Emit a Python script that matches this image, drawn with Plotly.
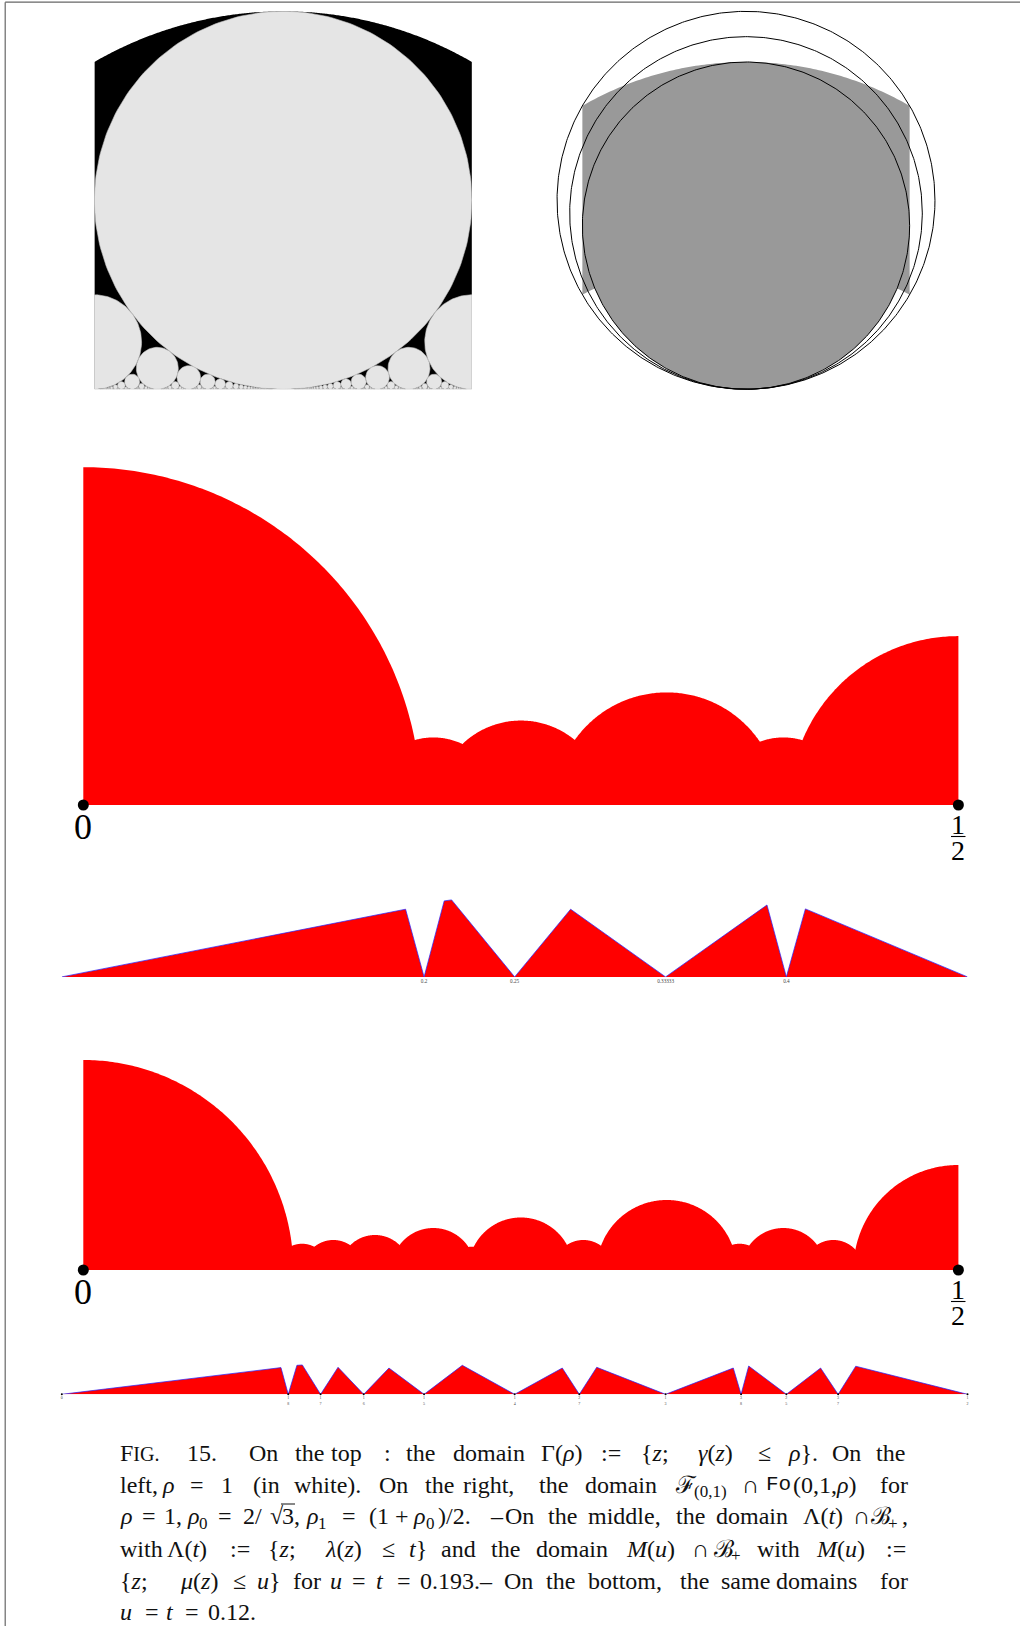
import numpy as np
import plotly.graph_objects as go
from math import gcd, sqrt

W, H = 1020, 1626
RED, BLUE = "#ff0000", "#2222ff"
SERIF = "Liberation Serif"

# ---- data ----
ford_max_q = 34
rho = 1.0
rho0 = 2 / sqrt(3)
rho1 = (1 + rho0) / 2
rhos = [rho, rho0, rho1]

t_mid = 0.193
t_low = 0.12
fractions_mid = [(0, 1), (1, 5), (1, 4), (1, 3), (2, 5), (1, 2)]
fractions_low = [(0, 1), (1, 8), (1, 7), (1, 6), (1, 5), (2, 9), (1, 4), (2, 7),
                 (1, 3), (3, 8), (2, 5), (3, 7), (1, 2)]

m_mid_x = [0, .1898, .2, .2111, .2152, .25, .2809, .33333, .3893, .4, .4105, .5]
m_mid_y = [0, .03737, 0, .04196, .0425, 0, .03737, 0, .0397, 0, .03754, 0]
m_mid_ticks = [.2, .25, .33333, .4]
m_mid_ticktext = ["0.2", "0.25", "0.33333", "0.4"]

m_low_x = [0, .1210, .125, .1298, .1328, .14286, .1525, .16667, .1806, .2, .2211, .25,
           .2763, .28571, .2953, .33333, .3707, .375, .3792, .4, .4189, .42857, .4383, .5]
m_low_y = [0, .01474, 0, .0160, .0162, 0, .0149, 0, .0145, 0, .0160, 0,
           .0145, 0, .0149, 0, .0145, 0, .0156, 0, .0145, 0, .0155, 0]
m_low_ticks = [0, .125, .14286, .16667, .2, .25, .28571, .33333, .375, .4, .42857, .5]
m_low_ticktext = ["0", "1<br>8", "1<br>7", "1<br>6", "1<br>5", "1<br>4", "2<br>7", "1<br>3",
                  "3<br>8", "2<br>5", "3<br>7", "1<br>2"]

# caption: (line, x, text, kind)  kind: n normal, s subscript, m mono
R = "<i>ρ</i>"
caption = [
 (0,120,'F<span style="font-size:20px">IG.</span>','n'),(0,187.3,'15.','n'),(0,249.3,'On','n'),(0,295,'the','n'),
 (0,331.7,'top','n'),(0,384,':','n'),(0,406.7,'the','n'),(0,453.3,'domain','n'),(0,541.7,'Γ('+R+')','n'),
 (0,601.7,':=','n'),(0,641.7,'{<i>z</i>;','n'),(0,698.3,'<i>γ</i>(<i>z</i>)','n'),(0,758.3,'≤','n'),
 (0,788.3,R+'}.','n'),(0,832.7,'On','n'),(0,876.7,'the','n'),
 (1,120,'left,','n'),(1,162.3,R,'n'),(1,190,'=','n'),(1,221.7,'1','n'),(1,253.3,'(in','n'),(1,294,'white).','n'),
 (1,379.3,'On','n'),(1,425,'the','n'),(1,463.3,'right,','n'),(1,539.3,'the','n'),(1,585,'domain','n'),
 (1,675.7,'ℱ','n'),(1,694,'(0,1)','s'),(1,742.7,'∩','n'),(1,766.7,'Fo','m'),(1,793.3,'(0,1,'+R+')','n'),(1,880.7,'for','n'),
 (2,120.6,R,'n'),(2,142.3,'=','n'),(2,164,'1,','n'),(2,187,R,'n'),(2,199,'0','s'),(2,218,'=','n'),(2,243.6,'2/','n'),
 (2,270,'√','n'),(2,282,'3','n'),(2,294,',','n'),(2,306,R,'n'),(2,318,'1','s'),(2,342,'=','n'),(2,369.4,'(1','n'),
 (2,395.4,'+','n'),(2,413.3,R,'n'),(2,426,'0','s'),(2,438.8,')/2.','n'),(2,490,'–','n'),(2,505,'On','n'),(2,548.3,'the','n'),
 (2,588.3,'middle,','n'),(2,676.7,'the','n'),(2,716.7,'domain','n'),(2,803.3,'Λ(<i>t</i>)','n'),(2,853.3,'∩','n'),
 (2,871.7,'ℬ','n'),(2,888,'+','s'),(2,902,',','n'),
 (3,120.6,'with','n'),(3,167,'Λ(<i>t</i>)','n'),(3,230,':=','n'),(3,268,'{<i>z</i>;','n'),(3,325,'<i>λ</i>(<i>z</i>)','n'),
 (3,382,'≤','n'),(3,409,'<i>t</i>}','n'),(3,441.5,'and','n'),(3,491,'the','n'),(3,536,'domain','n'),(3,626,'<i>M</i>(<i>u</i>)','n'),
 (3,692,'∩','n'),(3,714,'ℬ','n'),(3,731,'+','s'),(3,757,'with','n'),(3,816,'<i>M</i>(<i>u</i>)','n'),(3,886,':=','n'),
 (4,120.6,'{<i>z</i>;','n'),(4,180,'<i>μ</i>(<i>z</i>)','n'),(4,233,'≤','n'),(4,257,'<i>u</i>}','n'),(4,293.5,'for','n'),
 (4,330,'<i>u</i>','n'),(4,352,'=','n'),(4,376.4,'<i>t</i>','n'),(4,397,'=','n'),(4,420,'0.193.–','n'),(4,504.3,'On','n'),
 (4,546,'the','n'),(4,588.3,'bottom,','n'),(4,680,'the','n'),(4,721.7,'same','n'),(4,776.7,'domains','n'),(4,880.7,'for','n'),
 (5,120,'<i>u</i>','n'),(5,145,'=','n'),(5,166.7,'<i>t</i>','n'),(5,185,'=','n'),(5,208,'0.12.','n'),
]
baselines = [1461, 1492.7, 1524.3, 1556.7, 1588.7, 1620]

# ---- geometry helpers ----
def circle(cx, cy, r, n=None):
    if n is None:
        n = int(max(24, min(260, r * 1400)))
    a = np.linspace(0, 2 * np.pi, n)
    return cx + r * np.cos(a), cy + r * np.sin(a)

def half_disc(cx, r, n=260):
    a = np.linspace(0, np.pi, n)
    return cx + r * np.cos(a), r * np.sin(a)

fig = go.Figure()
layout = dict(width=W, height=H, margin=dict(l=0, r=0, t=0, b=0), showlegend=False,
              plot_bgcolor="rgba(0,0,0,0)", paper_bgcolor="white")
annos, shapes = [], []
axis_count = [0]

def py(p):
    return 1 - p / H

def add_axes(x0, x1, xr, top, bottom, yr, tickvals=None, ticktext=None, tickfont=None):
    axis_count[0] += 1
    i = axis_count[0]
    xa = dict(domain=[x0 / W, x1 / W], range=xr, showgrid=False, zeroline=False, showline=False,
              anchor=f"y{i}", fixedrange=True)
    if tickvals is None:
        xa["visible"] = False
    else:
        xa.update(tickmode="array", tickvals=tickvals, ticktext=ticktext, ticks="", tickangle=0,
                  tickfont=tickfont, ticklabelstandoff=0, automargin=False)
    ya = dict(domain=[py(bottom), py(top)], range=yr, visible=False, fixedrange=True, anchor=f"x{i}")
    layout[f"xaxis{i}"] = xa
    layout[f"yaxis{i}"] = ya
    return f"x{i}", f"y{i}"

# ---- top left: Ford circles ----
xa, ya = add_axes(94.4, 471.9, [-.5, .5], 11.3, 389.3, [0, 1])
ax = np.linspace(-.5, .5, 300)
fig.add_trace(go.Scatter(x=np.r_[-.5, ax, .5], y=np.r_[0, np.sqrt(1 - ax ** 2), 0], fill="toself",
                         fillcolor="black", mode="none", xaxis=xa, yaxis=ya, hoverinfo="skip"))
fx, fy = [], []
for q in range(1, ford_max_q + 1):
    for p in range(-q, q + 1):
        if 2 * abs(p) <= q + (q == 2) and gcd(abs(p), q) == 1:
            if q == 1 and p != 0:
                continue
            cx, cy = circle(p / q, 1 / (2 * q * q), 1 / (2 * q * q))
            fx += list(cx) + [None]
            fy += list(cy) + [None]
fig.add_trace(go.Scatter(x=fx, y=fy, fill="toself", fillcolor="#e5e5e5", mode="lines",
                         line=dict(color="#c4c4c4", width=0.6), xaxis=xa, yaxis=ya, hoverinfo="skip"))

# ---- top right ----
xa, ya = add_axes(549.5, 942.5, [-.6004, .6004], 6.3, 395.8, [-.02, 1.1701])
a_top = np.linspace(np.pi / 3, 2 * np.pi / 3, 120)
a_low = np.linspace(np.pi / 3, np.pi, 120)
rx = 1 / 3 + np.cos(a_low) / 3
ry = np.sin(a_low) / 3
gx = np.r_[np.cos(a_top), -rx, rx[::-1]]
gy = np.r_[np.sin(a_top), ry, ry[::-1]]
fig.add_trace(go.Scatter(x=gx, y=gy, fill="toself", fillcolor="#999999", mode="none", xaxis=xa, yaxis=ya, hoverinfo="skip"))
cx, cy = circle(0, .5, .5, 400)
fig.add_trace(go.Scatter(x=cx, y=cy, fill="toself", fillcolor="#999999", mode="none", xaxis=xa, yaxis=ya, hoverinfo="skip"))
for r_ in rhos:
    cx, cy = circle(0, r_ / 2, r_ / 2, 500)
    fig.add_trace(go.Scatter(x=cx, y=cy, mode="lines", line=dict(color="black", width=1), xaxis=xa, yaxis=ya, hoverinfo="skip"))

# ---- lambda panels ----
def lam_panel(base, t, fractions):
    sc = 1750.2
    hpx = t * sc + 4
    xa, ya = add_axes(83.3, 958.4, [0, .5], base - hpx, base, [0, hpx / sc])
    for p, q in fractions:
        hx, hy = half_disc(p / q, t / q)
        fig.add_trace(go.Scatter(x=hx, y=hy, fill="toself", fillcolor=RED, mode="none", xaxis=xa, yaxis=ya, hoverinfo="skip"))
    fig.add_trace(go.Scatter(x=[0, .5], y=[0, 0], mode="markers", marker=dict(color="black", size=11),
                             cliponaxis=False, xaxis=xa, yaxis=ya, hoverinfo="skip"))
    def lab(txt, x, y, size):
        annos.append(dict(text=txt, xref="paper", yref="paper", x=x / W, y=py(y), xanchor="center", yanchor="middle",
                          showarrow=False, font=dict(family=SERIF, size=size, color="black"), borderpad=0))
    lab("0", 83.3, base + 21.5, 36)
    lab("1", 958.4, base + 19, 28)
    lab("2", 958.4, base + 45, 28)
    shapes.append(dict(type="line", xref="paper", yref="paper", x0=951 / W, x1=965.5 / W, y0=py(base + 31.5), y1=py(base + 31.5),
                       line=dict(color="black", width=1.1)))

def m_panel(base, xs, ys, ticks, ticktext, dots, tick_size):
    sc = 1811.4
    hpx = 84
    xa, ya = add_axes(61.8, 967.5, [0, .5], base - hpx, base, [0, hpx / sc],
                      tickvals=ticks, ticktext=ticktext,
                      tickfont=dict(family=SERIF, size=tick_size, color="#444444"))
    fig.add_trace(go.Scatter(x=xs, y=ys, fill="toself", fillcolor=RED, mode="none", xaxis=xa, yaxis=ya, hoverinfo="skip"))
    fig.add_trace(go.Scatter(x=xs, y=ys, mode="lines", line=dict(color=BLUE, width=0.7), xaxis=xa, yaxis=ya, hoverinfo="skip", cliponaxis=False))
    if dots:
        fig.add_trace(go.Scatter(x=ticks, y=[0] * len(ticks), mode="markers", marker=dict(color="black", size=2),
                                 cliponaxis=False, xaxis=xa, yaxis=ya, hoverinfo="skip"))

lam_panel(805.0, t_mid, fractions_mid)
m_panel(976.9, m_mid_x, m_mid_y, m_mid_ticks, m_mid_ticktext, False, 5.2)
lam_panel(1270.0, t_low, fractions_low)
m_panel(1394.3, m_low_x, m_low_y, m_low_ticks, m_low_ticktext, True, 4)

# ---- caption ----
for line, x, txt, kind in caption:
    size = 24
    fam = SERIF
    yy = baselines[line] - 8
    if kind == "s":
        size, yy = 17, baselines[line] - 1
    if kind == "m":
        size, fam = 21, "Liberation Mono"
    annos.append(dict(text=txt, xref="paper", yref="paper", x=(x - 1.5) / W, y=py(yy), xanchor="left", yanchor="middle",
                      showarrow=False, font=dict(family=fam, size=size, color="#111111"), borderpad=0, align="left"))
shapes.append(dict(type="line", xref="paper", yref="paper", x0=281 / W, x1=295 / W, y0=py(1504), y1=py(1504), line=dict(color="#111111", width=1)))

# ---- page frame ----
shapes.append(dict(type="line", xref="paper", yref="paper", x0=5.2 / W, x1=1, y0=py(2.2), y1=py(2.2), line=dict(color="#666666", width=1.2)))
shapes.append(dict(type="line", xref="paper", yref="paper", x0=5.2 / W, x1=5.2 / W, y0=py(2.2), y1=0, line=dict(color="#666666", width=1.2)))

layout["annotations"] = annos
layout["shapes"] = shapes
fig.update_layout(**layout)
fig.write_html("out.html", config=dict(displayModeBar=False), post_script="document.body.style.margin='0';window.dispatchEvent(new Event('resize'));")
